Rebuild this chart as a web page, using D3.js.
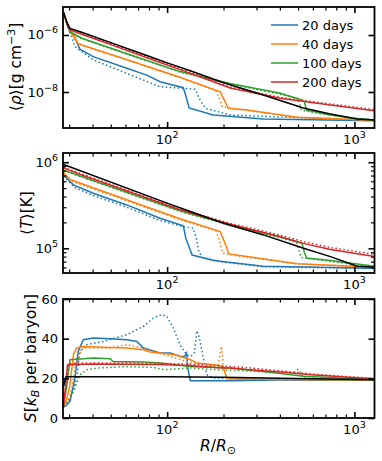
<!DOCTYPE html>
<html>
<head>
<meta charset="utf-8">
<title>profiles</title>
<style type="text/css">
	body { margin: 0; background: #fff; }
	svg { display: block; font-family: "DejaVu Sans", sans-serif; }
	.spine { fill: none; stroke: #000; stroke-width: 1.8; }
	.tick line { stroke: #000; }
</style>
<script src="https://cdn.jsdelivr.net/npm/d3@7/dist/d3.min.js"></script>
<script type="text/javascript">
// legend / colours
var times = ["20 days", "40 days", "100 days", "200 days"];
var colors = ["#1f77b4", "#ff7f0e", "#2ca02c", "#d62728"];

// x ticks (R / Rsun)
var xMajor = [100, 1000];
var xMinor = [30, 40, 50, 60, 70, 80, 90, 200, 300, 400, 500, 600, 700, 800, 900];

// density [R, rho]
var rhoInit = [[28,6.0e-6],[29.3,2.6e-6],[30.3,1.7e-6],[35,1.25e-6],[50,5.4e-7],[80,1.8e-7],[100,1.05e-7],[133,5.6e-8],[200,2.1e-8],[326,7.9e-9],[533,2.75e-9],[745,1.69e-9],[1038,1.13e-9],[1280,1.04e-9]];
var rho20 = [[28,6.0e-6],[29.3,2.2e-6],[30.3,1.3e-6],[32,9e-7],[34.2,3.2e-7],[40.3,1.74e-7],[60.9,6.8e-8],[77.9,3.9e-8],[91.7,2.3e-8],[122,1.42e-8],[126,7.2e-9],[131,2.75e-9],[176,1.56e-9],[326,1.13e-9],[1280,9.8e-10]];
var rho20d = [[28,6.0e-6],[29.3,2.2e-6],[30.3,1.2e-6],[32.2,3.9e-7],[40.4,1.33e-7],[60.9,4.5e-8],[91.7,1.53e-8],[122,1.35e-8],[141,1.25e-8],[150,5.2e-9],[160,2.7e-9],[217,1.56e-9],[1280,9.8e-10]];
var rho40 = [[28,6.0e-6],[29.3,2.4e-6],[30.3,1.5e-6],[31.5,1.0e-6],[33.5,5.0e-7],[36,4.2e-7],[60,1.4e-7],[117,3.3e-8],[192,1.02e-8],[202,5.2e-9],[212,2.7e-9],[267,2.35e-9],[495,1.29e-9],[1280,1.02e-9]];
var rho40d = [[28,6.0e-6],[29.3,2.3e-6],[30.3,1.3e-6],[31.5,8.0e-7],[33.5,5.0e-7],[36,4.1e-7],[60,1.38e-7],[117,3.2e-8],[182,1.12e-8],[190,6.0e-9],[197,3.0e-9],[230,2.6e-9],[495,1.29e-9],[1280,1.02e-9]];
var rho100 = [[28,6.0e-6],[29.3,2.3e-6],[30.3,1.3e-6],[35,7.7e-7],[60,2.3e-7],[117,5.2e-8],[217,2.0e-8],[402,9.0e-9],[520,5.4e-9],[540,4.6e-9],[556,2.3e-9],[745,1.56e-9],[987,1.19e-9],[1280,1.05e-9]];
var rho100d = [[28,6.0e-6],[29.3,2.2e-6],[30.3,1.25e-6],[35,7.4e-7],[60,2.2e-7],[117,5.0e-8],[217,1.9e-8],[402,8.3e-9],[490,6.0e-9],[505,4.5e-9],[520,2.4e-9],[600,1.9e-9],[745,1.56e-9],[987,1.19e-9],[1280,1.05e-9]];
var rho200 = [[28,6.0e-6],[29.3,2.4e-6],[30.3,1.5e-6],[35,1.06e-6],[50,4.6e-7],[80,1.5e-7],[133,4.5e-8],[217,1.38e-8],[402,6.0e-9],[745,3.5e-9],[1280,2.2e-9]];
var rho200d = [[28,6.0e-6],[29.3,2.5e-6],[30.3,1.6e-6],[35,1.1e-6],[50,5.0e-7],[80,1.65e-7],[133,4.9e-8],[217,1.5e-8],[402,6.5e-9],[745,3.8e-9],[1280,2.4e-9]];

// temperature [R, T]
var tInit = [[28,9.4e5],[100,3.35e5],[133,2.67e5],[200,1.95e5],[327,1.43e5],[535,1.0e5],[745,8.0e4],[1034,6.2e4],[1280,6.0e4]];
var t20 = [[28,7.1e5],[29.5,6.3e5],[31.6,5.45e5],[40.3,4.36e5],[60.9,3.19e5],[91.7,2.23e5],[122,1.82e5],[126,1.3e5],[136,8.35e4],[177,7.2e4],[326,6.2e4],[1280,5.85e4]];
var t20d = [[28,6.9e5],[30,5.9e5],[32,5.1e5],[40.3,4.1e5],[60.9,3.0e5],[91.7,2.1e5],[122,1.78e5],[138,1.71e5],[143,1.3e5],[148,9.0e4],[155,7.8e4],[200,6.9e4],[326,6.1e4],[1280,5.8e4]];
var t40 = [[28,7.6e5],[30.3,6.3e5],[117,2.2e5],[192,1.56e5],[202,1.2e5],[214,8.6e4],[267,8.0e4],[494,6.6e4],[1280,6.0e4]];
var t40d = [[28,7.5e5],[30.3,6.1e5],[117,2.15e5],[182,1.6e5],[190,1.25e5],[198,8.8e4],[240,8.1e4],[494,6.6e4],[1280,6.0e4]];
var t100 = [[28,8.1e5],[35,6.8e5],[117,2.72e5],[217,1.87e5],[402,1.36e5],[525,1.14e5],[540,9.0e4],[555,7.7e4],[745,7.2e4],[1280,6.2e4]];
var t100d = [[28,8.0e5],[35,6.7e5],[117,2.68e5],[217,1.84e5],[402,1.32e5],[490,1.17e5],[505,9.5e4],[520,7.8e4],[745,7.0e4],[1280,6.1e4]];
var t200 = [[28,8.6e5],[35,7.1e5],[117,2.8e5],[217,1.9e5],[402,1.36e5],[533,1.14e5],[745,9.7e4],[1280,8.0e4]];
var t200d = [[28,8.7e5],[35,7.3e5],[117,2.85e5],[217,1.95e5],[402,1.42e5],[533,1.2e5],[745,1.02e5],[1280,8.5e4]];

// entropy [R, S]
var sInit = [[28,16],[28.8,20.8],[100,20.8],[200,20.5],[400,20.0],[1280,19.3]];
var s20 = [[28,5.5],[29,6.5],[30.3,8.4],[32.2,20.2],[33.5,33.6],[35.7,39.5],[40.4,40.3],[49.6,40],[60.9,39.5],[68.9,38.6],[74.7,35.3],[91.7,32.8],[104,32.8],[117,31.1],[124,31],[127,32.8],[129,25],[133,18.8],[217,18.8],[400,19.2],[1280,19.0]];
var s20d = [[28,6],[29.1,6.7],[31,12],[32.9,20],[34.2,33.6],[37.2,37],[45.6,38.6],[60.9,42],[74.7,46.2],[84.5,50.4],[93.7,52.1],[99.6,51.2],[108,45.4],[117,37],[127,31.9],[134,31],[140,33],[144,44],[147,42],[150,38.6],[156,30.3],[163,21.8],[177,20.2],[300,19.5],[1280,19]];
var s40 = [[28,6],[29,9],[30.3,16.8],[31.6,31.9],[32.9,35.3],[35.7,36.1],[49.6,35.6],[60.9,35.3],[74.7,34.4],[81,33.3],[91.7,32.8],[110,31.9],[133,29.4],[144,27.7],[177,26.9],[200,26],[205,22],[209,19.8],[300,19.5],[1280,19.1]];
var s40d = [[28,6.5],[29.5,8],[31,15],[32.9,30],[35.7,35.3],[49.6,35.3],[60.9,37],[68.9,36],[84.5,33.6],[104,31],[127,28.5],[150,27.5],[177,26],[188,27],[192,33],[195,36.1],[198,30],[200,25.2],[205,22],[208,20.2],[300,19.5],[1280,19.1]];
var s100 = [[28,7],[29,15],[30.3,29.4],[40.4,30.2],[49.6,29.9],[51.5,28.5],[74.7,28.2],[91.7,27.7],[133,26],[217,25.2],[326,23.5],[535,21],[1280,19.3]];
var s100d = [[28,6],[30,9],[31.6,13.4],[34.2,21.8],[37.2,24.4],[43,25.2],[60.9,25.9],[84.5,25.5],[96,24.4],[133,25.2],[177,24.4],[300,23.5],[480,23],[500,24.5],[515,23],[535,20.2],[800,19.5],[1280,19.1]];
var s200 = [[28,6],[28.6,15],[29.4,26.9],[40,27.2],[90,27],[133,26.5],[177,25.5],[217,25.2],[267,24.4],[402,23.2],[590,21.8],[930,20.5],[1280,19.8]];
var s200d = [[28,6],[29,18],[29.8,27.5],[40,27.8],[90,27.6],[133,27.2],[177,26.5],[217,26],[267,25.4],[402,23.8],[590,22.2],[930,20.8],[1280,20.0]];

window.onload = function(){
	var W = 382, H = 461;
	var left = 63, right = 374.5;

	var svg = d3.select("#chart").append("svg")
			.attr("width", W).attr("height", H);

	var x = d3.scaleLog().domain([27.8, 1280]).range([left, right]);

	var panels = [
		{ top: 7, bottom: 128, y: d3.scaleLog().domain([5.46e-10, 9.6e-6]),
		  sets: [rho20, rho20d, rho40, rho40d, rho100, rho100d, rho200, rho200d], init: rhoInit,
		  major: [1e-8, 1e-6], minor: [], labels: [["10", "\u22128"], ["10", "\u22126"]] },
		{ top: 153, bottom: 273, y: d3.scaleLog().domain([5.16e4, 1.28e6]),
		  sets: [t20, t20d, t40, t40d, t100, t100d, t200, t200d], init: tInit,
		  major: [1e5, 1e6], minor: [6e4, 7e4, 8e4, 9e4, 2e5, 3e5, 4e5, 5e5, 6e5, 7e5, 8e5, 9e5],
		  labels: [["10", "5"], ["10", "6"]] },
		{ top: 299, bottom: 418, y: d3.scaleLinear().domain([0, 60]),
		  sets: [s20, s20d, s40, s40d, s100, s100d, s200, s200d], init: sInit,
		  major: [0, 20, 40, 60], minor: [], labels: [["0"], ["20"], ["40"], ["60"]] }
	];

	panels.forEach(function(p, i){
		p.y.range([p.bottom, p.top]);
		var g = svg.append("g");

		svg.append("clipPath").attr("id", "clip" + i)
			.append("rect").attr("x", left).attr("y", p.top)
			.attr("width", right - left).attr("height", p.bottom - p.top);

		var line = d3.line()
			.x(function(d){ return x(d[0]); })
			.y(function(d){ return p.y(d[1]); });

		var lines = g.append("g").attr("clip-path", "url(#clip" + i + ")");
		p.sets.forEach(function(s, k){
			lines.append("path")
				.attr("d", line(s))
				.attr("fill", "none")
				.attr("stroke", colors[Math.floor(k / 2)])
				.attr("stroke-width", 1.5)
				.attr("stroke-dasharray", k % 2 ? "1.5,2.5" : null);
		});
		lines.append("path")
			.attr("d", line(p.init))
			.attr("fill", "none")
			.attr("stroke", "#000")
			.attr("stroke-width", 1.5);

		// ticks, pointing inward on all four sides
		var tk = function(axis, vals, len, w, tx, ty){
			var a = g.append("g").attr("transform", "translate(" + tx + "," + ty + ")")
				.call(axis.tickValues(vals).tickSize(-len).tickFormat(""));
			a.select(".domain").remove();
			a.selectAll("line").attr("stroke-width", w);
		};
		tk(d3.axisBottom(x), xMajor, 6, 1.6, 0, p.bottom);
		tk(d3.axisBottom(x), xMinor, 3.5, 1.2, 0, p.bottom);
		tk(d3.axisTop(x), xMajor, 6, 1.6, 0, p.top);
		tk(d3.axisTop(x), xMinor, 3.5, 1.2, 0, p.top);
		tk(d3.axisLeft(p.y), p.major, 6, 1.6, left, 0);
		tk(d3.axisRight(p.y), p.major, 6, 1.6, right, 0);
		if (p.minor.length) {
			tk(d3.axisLeft(p.y), p.minor, 3.5, 1.2, left, 0);
			tk(d3.axisRight(p.y), p.minor, 3.5, 1.2, right, 0);
		}

		g.append("rect").attr("class", "spine")
			.attr("x", left).attr("y", p.top)
			.attr("width", right - left).attr("height", p.bottom - p.top);

		// tick labels
		xMajor.forEach(function(v, k){
			var t = g.append("text").attr("x", x(v)).attr("y", p.bottom + 16)
				.attr("text-anchor", "middle").attr("font-size", 13);
			t.append("tspan").text("10");
			t.append("tspan").attr("dy", -6).attr("font-size", 9.5).text(k + 2);
		});
		p.major.forEach(function(v, k){
			var lab = p.labels[k];
			var t = g.append("text").attr("x", left - 5).attr("y", p.y(v) + 4.5)
				.attr("text-anchor", "end").attr("font-size", 13);
			t.append("tspan").text(lab[0]);
			if (lab[1]) t.append("tspan").attr("dy", -6).attr("font-size", 9.5).text(lab[1]);
		});
	});

	// y labels
	var ylab = function(cx, cy, parts){
		var t = svg.append("text").attr("transform", "translate(" + cx + "," + cy + ") rotate(-90)")
			.attr("text-anchor", "middle").attr("font-size", 15.5);
		parts.forEach(function(pp){
			var s = t.append("tspan").text(pp[0]);
			if (pp[1] == "i") s.attr("font-style", "italic");
			if (pp[1] == "sup") s.attr("font-size", 11).attr("dy", -6);
			if (pp[1] == "down") s.attr("dy", 6);
			if (pp[1] == "sub") s.attr("font-style", "italic").attr("font-size", 11).attr("dy", 3);
			if (pp[1] == "back") s.attr("dy", -3);
		});
	};
	ylab(21, 67, [["\u27e8"], ["\u03c1", "i"], ["\u27e9[g cm"], ["\u22123", "sup"], ["]", "down"]]);
	ylab(32, 213, [["\u27e8"], ["T", "i"], ["\u27e9[K]"]]);
	ylab(36, 358, [["S", "i"], ["["], ["k", "i"], ["B", "sub"], [" per baryon]", "back"]]);

	// x label
	var xl = svg.append("text").attr("x", 218).attr("y", 451)
		.attr("text-anchor", "middle").attr("font-size", 15.5);
	xl.append("tspan").attr("font-style", "italic").text("R");
	xl.append("tspan").text("/");
	xl.append("tspan").attr("font-style", "italic").text("R");
	xl.append("tspan").attr("font-size", 11).attr("dy", 3).text("\u2299");

	// legend
	var lg = svg.append("g");
	times.forEach(function(name, k){
		var yy = 25 + k * 19;
		lg.append("line").attr("x1", 271).attr("x2", 298).attr("y1", yy).attr("y2", yy)
			.attr("stroke", colors[k]).attr("stroke-width", 1.5);
		lg.append("text").attr("x", 302).attr("y", yy + 4.7).attr("font-size", 13).text(name);
	});
};
</script>
</head>
<body>
<div id="chart"></div>
</body>
</html>
